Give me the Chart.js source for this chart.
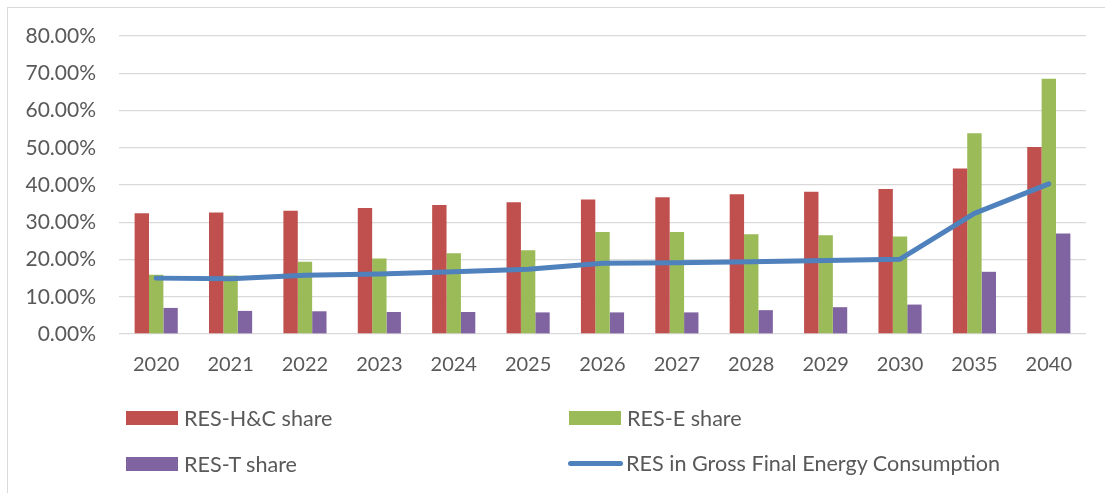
<!DOCTYPE html>
<html>
<head>
<meta charset="utf-8">
<script src="https://cdn.jsdelivr.net/npm/chart.js@4.4.1/dist/chart.umd.min.js"></script>
<style>
  html, body { margin: 0; padding: 0; background: #fff; }
  #wrap { position: relative; width: 1105px; height: 493px; overflow: hidden; }
  #frame { position: absolute; left: 7px; top: 7px; right: -2px; bottom: -2px; border-left: 1.5px solid #d9d9d9; border-top: 1.5px solid #d9d9d9; pointer-events: none; }
  canvas { position: absolute; left: 0; top: 0; }
  .lg { position: absolute; font-family: Lato, "Open Sans", sans-serif; font-size: 21.6px; color: #595959; white-space: nowrap; line-height: 24px; }
  .sw { position: absolute; }
</style>
</head>
<body>
<div id="wrap">
  <canvas id="c" width="1105" height="493"></canvas>
  <div id="frame"></div>
  <div id="legend"></div>
</div>
<script>
const categories = ['2020','2021','2022','2023','2024','2025','2026','2027','2028','2029','2030','2035','2040'];
const resHCShare = [32.4, 32.6, 33.1, 33.8, 34.6, 35.4, 36.1, 36.7, 37.5, 38.2, 38.9, 44.4, 50.2];
const resEShare  = [15.9, 15.7, 19.4, 20.3, 21.7, 22.5, 27.4, 27.4, 26.8, 26.5, 26.2, 53.9, 68.5];
const resTShare  = [7.0, 6.2, 6.1, 5.9, 5.9, 5.8, 5.8, 5.8, 6.4, 7.2, 7.9, 16.7, 27.0];
const resGFEC    = [15.0, 14.8, 15.8, 16.1, 16.7, 17.4, 19.0, 19.1, 19.4, 19.7, 20.1, 32.4, 40.3];
const yTickValues = [0, 10, 20, 30, 40, 50, 60, 70, 80];

const FONT_X = { family: 'Lato, "Open Sans", sans-serif', size: 20 };
const FONT_Y = { family: 'Lato, "Open Sans", sans-serif', size: 21 };
const TXT = '#595959';

const chart = new Chart(document.getElementById('c'), {
  type: 'bar',
  data: {
    labels: categories,
    datasets: [
      { type: 'line', label: 'RES in Gross Final Energy Consumption', data: resGFEC, borderColor: '#4F81BD', backgroundColor: '#4F81BD', borderWidth: 5, pointRadius: 0, tension: 0, borderCapStyle: 'round', borderJoinStyle: 'round', order: 0 },
      { label: 'RES-H&C share', data: resHCShare, backgroundColor: '#C0504D', order: 1 },
      { label: 'RES-E share', data: resEShare, backgroundColor: '#9BBB59', order: 1 },
      { label: 'RES-T share', data: resTShare, backgroundColor: '#8064A2', order: 1 }
    ]
  },
  options: {
    responsive: false,
    animation: false,
    events: [],
    datasets: { bar: { categoryPercentage: 0.58, barPercentage: 1.0 } },
    layout: { padding: { left: 0, right: 19, top: 36, bottom: 109 } },
    plugins: { legend: { display: false }, tooltip: { enabled: false } },
    scales: {
      x: {
        grid: { display: false, drawTicks: false },
        border: { display: false },
        ticks: { color: TXT, font: FONT_X, padding: 19, maxRotation: 0 },
        afterFit: s => { s.height = 50; }
      },
      y: {
        min: 0, max: 80,
        afterBuildTicks: s => { s.ticks = yTickValues.map(v => ({ value: v })); },
        grid: { color: '#d9d9d9', lineWidth: 1.3, drawTicks: false },
        border: { display: false },
        ticks: { color: TXT, font: FONT_Y, padding: 23, callback: v => Number(v).toFixed(2) + '%' },
        afterFit: s => { s.width = 119; }
      }
    }
  }
});

// HTML legend built from the chart's datasets
const legendPos = {
  'RES-H&C share': { x: 126, y: 418 },
  'RES-E share': { x: 569, y: 418 },
  'RES-T share': { x: 126, y: 464 },
  'RES in Gross Final Energy Consumption': { x: 568, y: 463 }
};
const lg = document.getElementById('legend');
chart.data.datasets.forEach(ds => {
  const p = legendPos[ds.label];
  const sw = document.createElement('div');
  sw.className = 'sw';
  if (ds.type === 'line') {
    Object.assign(sw.style, { left: p.x + 'px', top: (p.y - 2.5) + 'px', width: '55px', height: '5px', background: ds.borderColor, borderRadius: '3px' });
  } else {
    Object.assign(sw.style, { left: p.x + 'px', top: (p.y - 7) + 'px', width: '52px', height: '14px', background: ds.backgroundColor });
  }
  lg.appendChild(sw);
  const t = document.createElement('div');
  t.className = 'lg';
  t.textContent = ds.label;
  Object.assign(t.style, { left: (p.x + 58) + 'px', top: (p.y - 12) + 'px' });
  lg.appendChild(t);
});
</script>
</body>
</html>
